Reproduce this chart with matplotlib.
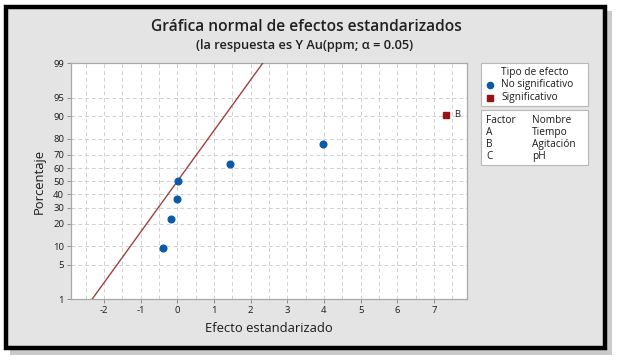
import numpy as np
import matplotlib
matplotlib.use("Agg")
import matplotlib.pyplot as plt
from matplotlib.patches import Rectangle
from matplotlib.lines import Line2D
from statistics import NormalDist

# ---- data ----
effects = [-0.38, -0.17, -0.01, 0.01, 1.45, 3.96, 7.32]
percent = [9.5, 23.0, 36.5, 50.0, 63.5, 77.0, 90.5]
significant = [False, False, False, False, False, False, True]
point_labels = ["", "", "", "", "", "", "B"]
y_ticks = [1, 5, 10, 20, 30, 40, 50, 60, 70, 80, 90, 95, 99]
x_ticks = [-2, -1, 0, 1, 2, 3, 4, 5, 6, 7]
factors = ["A", "B", "C"]
names = ["Tiempo", "Agitación", "pH"]

plt.rcParams['font.family'] = ['Open Sans', 'DejaVu Sans']

W, H = 620, 364
fig = plt.figure(figsize=(W / 100, H / 100), dpi=100)
fig.patch.set_facecolor("white")

def fx(x): return x / W
def fy(y): return 1 - y / H

def prect(x0, y0, x1, y1, **kw):
    return Rectangle((fx(x0), fy(y1)), fx(x1) - fx(x0), fy(y0) - fy(y1), transform=fig.transFigure, **kw)

# frame with shadow
fig.patches.append(prect(10, 11, 612, 355, facecolor="#8a8a8a", edgecolor="none", alpha=0.45, zorder=0))
fig.patches.append(prect(6, 7, 605, 348, facecolor="#e4e4e4", edgecolor="black", linewidth=3.2, zorder=1))

# axes
ax = fig.add_axes([fx(71), fy(299.3), fx(467) - fx(71), fy(63.3) - fy(299.3)])
ax.set_zorder(5)
ax.set_facecolor("white")
nd = NormalDist()
_inv = np.vectorize(lambda p: nd.inv_cdf(min(max(p / 100.0, 1e-9), 1 - 1e-9)), otypes=[float])
_cdf = np.vectorize(lambda z: nd.cdf(z) * 100.0, otypes=[float])
def vinv(p):
    p = np.asarray(p, dtype=float)
    return _inv(p) if p.size else p
def vcdf(z):
    z = np.asarray(z, dtype=float)
    return _cdf(z) if z.size else z
ax.set_yscale('function', functions=(vinv, vcdf))
ax.set_ylim(1, 99)
ax.set_xlim(-2.9, 7.9)
ax.set_yticks(y_ticks)
ax.set_yticklabels([str(t) for t in y_ticks])
ax.yaxis.set_minor_locator(matplotlib.ticker.NullLocator())
ax.set_xticks(x_ticks)
ax.set_xticklabels([str(t) for t in x_ticks])
ax.set_xticks(np.arange(-2.5, 7.9, 0.5), minor=True)
ax.tick_params(axis='both', which='major', labelsize=6.8, length=3, width=0.6, color="#808080", pad=2,
               labelcolor="#1a1a1a")
ax.tick_params(axis='x', which='minor', length=0)
ax.grid(True, which='both', axis='x', linestyle=(0, (4, 3)), color="#d0d0d0", linewidth=0.7)
ax.grid(True, which='major', axis='y', linestyle=(0, (4, 3)), color="#d0d0d0", linewidth=0.7)
ax.set_axisbelow(True)
for s in ax.spines.values():
    s.set_color("#a8a8a8")
    s.set_linewidth(0.9)

# reference line (standard normal)
ref_pct = np.linspace(1, 99, 200)
ax.plot(vinv(ref_pct), ref_pct, color="#a04040", linewidth=1.0, zorder=3)

# points
for e, p, sig, lab in zip(effects, percent, significant, point_labels):
    if sig:
        ax.plot(e, p, marker='s', color="#9b1212", markersize=4.8, linestyle='none', zorder=4)
    else:
        ax.plot(e, p, marker='o', color="#0b5aa8", markersize=4.8, linestyle='none', zorder=4)
    if lab:
        ax.annotate(lab, (e, p), xytext=(6, 0), textcoords='offset points', fontsize=6.8,
                    va='center', ha='left', color="#202020")

ax.set_xlabel("Efecto estandarizado", fontsize=9.4, color="#1a1a1a", labelpad=5)
ax.set_ylabel("Porcentaje", fontsize=9.4, color="#1a1a1a", labelpad=5)

# titles
fig.text(fx(306), fy(27), "Gráfica normal de efectos estandarizados", ha='center', va='center',
         fontsize=11.2, fontweight='semibold', color="#202020", zorder=6)
fig.text(fx(305), fy(45), "(la respuesta es Y Au(ppm; α = 0.05)", ha='center', va='center',
         fontsize=9.2, fontweight='semibold', color="#202020", zorder=6)

# legend box 1
fs = 7.3
fig.patches.append(prect(481, 63, 588, 106, facecolor="white", edgecolor="#b8b8b8", linewidth=0.8, zorder=2))
fig.text(fx(535), fy(73), "Tipo de efecto", ha='center', va='center', fontsize=fs, color="#1a1a1a", zorder=6)
fig.add_artist(Line2D([fx(490)], [fy(84.5)], marker='o', color="#0b5aa8", markersize=4.5,
                      transform=fig.transFigure, zorder=6))
fig.text(fx(501), fy(84.5), "No significativo", ha='left', va='center', fontsize=fs, color="#1a1a1a", zorder=6)
fig.add_artist(Line2D([fx(490)], [fy(97.5)], marker='s', color="#9b1212", markersize=4.5,
                      transform=fig.transFigure, zorder=6))
fig.text(fx(501), fy(97.5), "Significativo", ha='left', va='center', fontsize=fs, color="#1a1a1a", zorder=6)

# legend box 2
fig.patches.append(prect(481, 110, 588, 165, facecolor="white", edgecolor="#b8b8b8", linewidth=0.8, zorder=2))
fig.text(fx(486), fy(120.5), "Factor", ha='left', va='center', fontsize=fs, color="#1a1a1a", zorder=6)
fig.text(fx(532), fy(120.5), "Nombre", ha='left', va='center', fontsize=fs, color="#1a1a1a", zorder=6)
for i, (f, nme) in enumerate(zip(factors, names)):
    yy = 132.5 + i * 12.2
    fig.text(fx(486), fy(yy), f, ha='left', va='center', fontsize=fs, color="#1a1a1a", zorder=6)
    fig.text(fx(532), fy(yy), nme, ha='left', va='center', fontsize=fs, color="#1a1a1a", zorder=6)

fig.savefig("out.png", dpi=100)
